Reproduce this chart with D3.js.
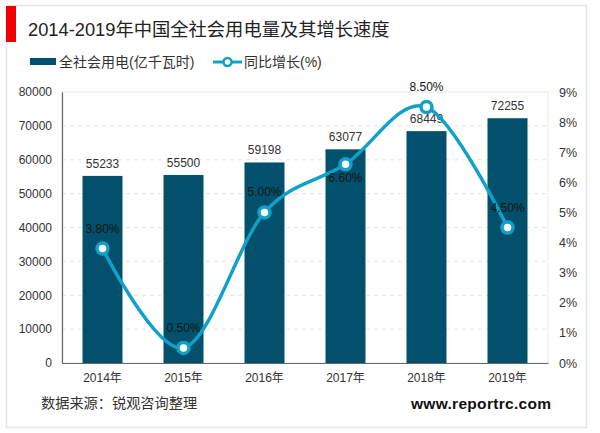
<!DOCTYPE html>
<html>
<head>
<meta charset="utf-8">
<script src="https://cdn.jsdelivr.net/npm/d3@7"></script>
<style>
html, body { margin: 0; padding: 0; background: #fff; }
text { font-family: "Liberation Sans", "Noto Sans CJK SC", sans-serif; fill: #333; }
</style>
</head>
<body>
<div id="canvas"></div>
<script>
const width = 600;
const height = 433;

// values
const years = ["2014年", "2015年", "2016年", "2017年", "2018年", "2019年"];
const power = [55233, 55500, 59198, 63077, 68449, 72255];
const growth = [3.8, 0.5, 5.0, 6.6, 8.5, 4.5];
const growthLabels = ["3.80%", "0.50%", "5.00%", "6.60%", "8.50%", "4.50%"];
const leftTicks = [0, 10000, 20000, 30000, 40000, 50000, 60000, 70000, 80000];
const rightTicks = [0, 1, 2, 3, 4, 5, 6, 7, 8, 9];

const barColor = "#02506b";
const lineColor = "#10a0c8";

const svg = d3.select("#canvas")
    .append("svg")
    .attr("width", width)
    .attr("height", height)
    .style("display", "block");

// outer frame and red title mark
svg.append("rect").attr("x", 6.5).attr("y", 5.5).attr("width", 580).attr("height", 422)
    .attr("fill", "#fff").attr("stroke", "#e6e6e6").attr("stroke-width", 1.5);
svg.append("rect").attr("x", 6).attr("y", 6).attr("width", 10).attr("height", 36).attr("fill", "#f00000");

svg.append("text").attr("x", 28).attr("y", 36)
    .style("font-size", "18.3px").style("fill", "#222")
    .text("2014-2019年中国全社会用电量及其增长速度");

// scales
const x = d3.scaleBand().domain(years).range([62, 548]);
const yLeft = d3.scaleLinear().domain([0, 80000]).range([363, 92]);
const yRight = d3.scaleLinear().domain([0, 9]).range([363, 92]);
const barWidth = 40;
const center = d => x(d) + x.bandwidth() / 2;

// plot border and gridlines
svg.append("rect").attr("x", 62).attr("y", 92).attr("width", 486).attr("height", 271)
    .attr("fill", "none").attr("stroke", "#e8e8e8").attr("stroke-width", 1);

svg.append("g").selectAll("line")
    .data(leftTicks.slice(1, -1))
    .join("line")
    .attr("x1", 62).attr("x2", 548)
    .attr("y1", d => yLeft(d)).attr("y2", d => yLeft(d))
    .attr("stroke", "#e4e4e4").attr("stroke-dasharray", "4,4");

// bars
svg.append("g").selectAll("rect")
    .data(years)
    .join("rect")
    .attr("x", d => center(d) - barWidth / 2)
    .attr("width", barWidth)
    .attr("y", (d, i) => yLeft(power[i]))
    .attr("height", (d, i) => yLeft(0) - yLeft(power[i]))
    .attr("fill", barColor);

// axes
const leftAxis = svg.append("g").attr("transform", "translate(62,0)")
    .call(d3.axisLeft(yLeft).tickValues(leftTicks).tickFormat(d3.format("d")).tickSize(0).tickPadding(10));
const rightAxis = svg.append("g").attr("transform", "translate(548,0)")
    .call(d3.axisRight(yRight).tickValues(rightTicks).tickFormat(d => d + "%").tickSize(0).tickPadding(11));
const bottomAxis = svg.append("g").attr("transform", "translate(0,363)")
    .call(d3.axisBottom(x).tickSize(0).tickPadding(10));

leftAxis.selectAll("text").style("font-size", "12px");
rightAxis.selectAll("text").style("font-size", "12.5px");
bottomAxis.selectAll("text").style("font-size", "12px");
leftAxis.select(".domain").attr("stroke", "#666").attr("stroke-width", 1.2);
rightAxis.select(".domain").remove();
bottomAxis.select(".domain").attr("stroke", "#666").attr("stroke-width", 1.2);

// bar value labels
svg.append("g").selectAll("text")
    .data(years)
    .join("text")
    .attr("x", d => center(d))
    .attr("y", (d, i) => yLeft(power[i]) - 8)
    .attr("text-anchor", "middle")
    .style("font-size", "12px")
    .text((d, i) => power[i]);

// growth line, smoothed like the office chart it came from
const line = d3.line()
    .x(d => center(d))
    .y((d, i) => yRight(growth[i]))
    .curve(d3.curveCatmullRom.alpha(0));

svg.append("path")
    .attr("d", line(years))
    .attr("fill", "none")
    .attr("stroke", lineColor)
    .attr("stroke-width", 3.5);

svg.append("g").selectAll("circle")
    .data(years)
    .join("circle")
    .attr("cx", d => center(d))
    .attr("cy", (d, i) => yRight(growth[i]))
    .attr("r", 5.5)
    .attr("fill", "#fff")
    .attr("stroke", lineColor)
    .attr("stroke-width", 3.5);

// growth labels sit above the markers, except 2017 which sits below
svg.append("g").selectAll("text")
    .data(years)
    .join("text")
    .attr("x", d => center(d))
    .attr("y", (d, i) => yRight(growth[i]) + (i === 3 ? 18 : -16))
    .attr("text-anchor", "middle")
    .style("font-size", "12px")
    .style("fill", "#151515")
    .text((d, i) => growthLabels[i]);

// legend
svg.append("rect").attr("x", 30).attr("y", 58).attr("width", 26).attr("height", 7).attr("fill", barColor);
svg.append("text").attr("x", 59).attr("y", 67).style("font-size", "14px").text("全社会用电(亿千瓦时)");
svg.append("line").attr("x1", 213).attr("x2", 242).attr("y1", 62).attr("y2", 62)
    .attr("stroke", lineColor).attr("stroke-width", 3);
svg.append("circle").attr("cx", 227.5).attr("cy", 62).attr("r", 4)
    .attr("fill", "#fff").attr("stroke", lineColor).attr("stroke-width", 2.5);
svg.append("text").attr("x", 244).attr("y", 67).style("font-size", "14px").text("同比增长(%)");

// source and site
svg.append("text").attr("x", 41).attr("y", 408).style("font-size", "14.2px").text("数据来源：锐观咨询整理");
svg.append("text").attr("x", 411).attr("y", 409)
    .style("font-size", "15.5px").style("font-weight", "bold").style("fill", "#111")
    .style("letter-spacing", "0.3px")
    .text("www.reportrc.com");
</script>
</body>
</html>
